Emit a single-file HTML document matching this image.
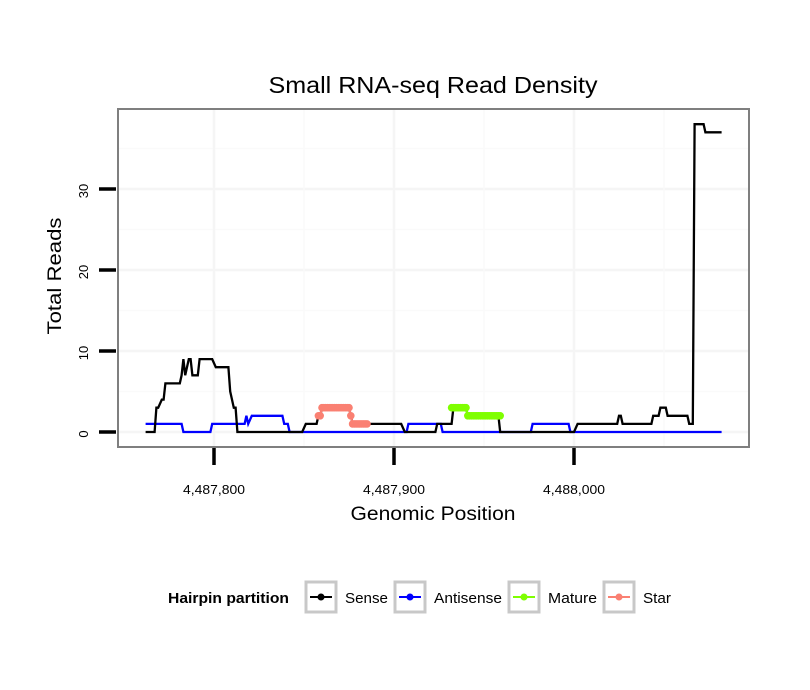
<!DOCTYPE html>
<html><head><meta charset="utf-8"><style>
body{margin:0;background:#fff;}
svg{display:block;font-family:"Liberation Sans",sans-serif;}
</style></head><body>
<svg id="chart" width="810" height="690">
<rect width="810" height="690" fill="#fff"/>
<text x="433" y="93" font-size="23" text-anchor="middle" textLength="329" lengthAdjust="spacingAndGlyphs">Small RNA-seq Read Density</text>
<g id="grid"></g>
<g id="series"></g>
<rect x="118" y="109" width="631" height="338" fill="none" stroke="#7f7f7f" stroke-width="2"/>
<g id="axes"></g>
<text x="433" y="520" font-size="19" text-anchor="middle" textLength="165" lengthAdjust="spacingAndGlyphs">Genomic Position</text>
<text transform="translate(61,276) rotate(-90)" font-size="19" text-anchor="middle" textLength="117" lengthAdjust="spacingAndGlyphs">Total Reads</text>
<g>
<text x="168" y="603" font-size="15" font-weight="bold" textLength="121" lengthAdjust="spacingAndGlyphs">Hairpin partition</text>
<g><rect x="306" y="582" width="30" height="30" fill="#fff" stroke="#c8c8c8" stroke-width="3"/><line x1="310" y1="597" x2="332" y2="597" stroke="#000" stroke-width="2"/><circle cx="321" cy="597" r="3.5" fill="#000"/><text x="345" y="603" font-size="15" textLength="43" lengthAdjust="spacingAndGlyphs">Sense</text></g>
<g><rect x="395" y="582" width="30" height="30" fill="#fff" stroke="#c8c8c8" stroke-width="3"/><line x1="399" y1="597" x2="421" y2="597" stroke="#0000ff" stroke-width="2"/><circle cx="410" cy="597" r="3.5" fill="#0000ff"/><text x="434" y="603" font-size="15" textLength="68" lengthAdjust="spacingAndGlyphs">Antisense</text></g>
<g><rect x="509" y="582" width="30" height="30" fill="#fff" stroke="#c8c8c8" stroke-width="3"/><line x1="513" y1="597" x2="535" y2="597" stroke="#7fff00" stroke-width="2"/><circle cx="524" cy="597" r="3.5" fill="#7fff00"/><text x="548" y="603" font-size="15" textLength="49" lengthAdjust="spacingAndGlyphs">Mature</text></g>
<g><rect x="604" y="582" width="30" height="30" fill="#fff" stroke="#c8c8c8" stroke-width="3"/><line x1="608" y1="597" x2="630" y2="597" stroke="#fa8072" stroke-width="2"/><circle cx="619" cy="597" r="3.5" fill="#fa8072"/><text x="643" y="603" font-size="15" textLength="28" lengthAdjust="spacingAndGlyphs">Star</text></g>
</g>
</svg>
<script>
const senseOffsets=[-38,-33,-32,-31,-29,-28,-27,-19,-18,-17,-16,-14,-13,-12,-9,-8,-1,1,8,9,11,12,13,49,51,57,58,59,60,75,76,77,104,106,123,124,132,133,140,141,158,159,200,202,224,225,226,227,243,244,247,248,251,252,263,264,266,267,272,273,282];
const senseValues=[0,0,3,3,4,4,6,6,7,9,7,9,9,7,7,9,9,8,8,5,3,3,0,0,1,1,2,2,3,3,2,1,1,0,0,1,1,3,3,2,2,0,0,1,1,2,2,1,1,2,2,3,3,2,2,1,1,38,38,37,37];
const antiOffsets=[-38,-18,-17,-2,-1,17,18,19,21,38,39,41,42,107,108,126,127,176,177,197,198,282];
const antiValues=[1,1,0,0,1,1,2,1,2,2,1,1,0,0,1,1,0,0,1,1,0,0];
const starOffsets=[58,59,60,61,62,63,64,65,66,67,68,69,70,71,72,73,74,75,76,77,78,79,80,81,82,83,84,85];
const starValues=[2,2,3,3,3,3,3,3,3,3,3,3,3,3,3,3,3,3,2,1,1,1,1,1,1,1,1,1];
const matureOffsets=[132,133,134,135,136,137,138,139,140,141,142,143,144,145,146,147,148,149,150,151,152,153,154,155,156,157,158,159];
const matureValues=[3,3,3,3,3,3,3,3,3,2,2,2,2,2,2,2,2,2,2,2,2,2,2,2,2,2,2,2];
const basePos=4487800;
const xTicks=[4487800,4487900,4488000];
const xTickLabels=["4,487,800","4,487,900","4,488,000"];
const yTicks=[0,10,20,30];
const yTickLabels=["0","10","20","30"];
const NS="http://www.w3.org/2000/svg";
function xs(p){return 214+(p-basePos)*1.8;}
function ys(v){return 432-v*8.1;}
function mk(t,a,parent){const e=document.createElementNS(NS,t);for(const k in a)e.setAttribute(k,a[k]);parent.appendChild(e);return e;}
const grid=document.getElementById('grid'),axes=document.getElementById('axes'),series=document.getElementById('series');
for(let v=5;v<=35;v+=10){const l=mk('line',{x1:119,x2:748,y1:ys(v),y2:ys(v),stroke:'#fafafa','stroke-width':1.5},grid);

}
yTicks.forEach(v=>{const l=mk('line',{x1:119,x2:748,y1:ys(v),y2:ys(v),stroke:'#f5f5f5','stroke-width':2.5},grid);

});
[4487850,4487950,4488050].forEach(p=>{const l=mk('line',{x1:xs(p),x2:xs(p),y1:110,y2:446,stroke:'#fafafa','stroke-width':1.5},grid);

});
xTicks.forEach(p=>{const l=mk('line',{x1:xs(p),x2:xs(p),y1:110,y2:446,stroke:'#f5f5f5','stroke-width':2.5},grid);

});
yTicks.forEach((v,i)=>{const t=mk('line',{x1:99,x2:116,y1:ys(v),y2:ys(v),stroke:'#000','stroke-width':3.5},axes);


const tx=mk('text',{transform:`translate(88,${ys(v)+2}) rotate(-90)`,'font-size':13,'text-anchor':'middle'},axes);
tx.textContent=yTickLabels[i];

});
xTicks.forEach((p,i)=>{const t=mk('line',{x1:xs(p),x2:xs(p),y1:448,y2:465,stroke:'#000','stroke-width':3.5},axes);


const tx=mk('text',{x:xs(p),y:494,'font-size':13,'text-anchor':'middle',textLength:62,lengthAdjust:'spacingAndGlyphs'},axes);
tx.textContent=xTickLabels[i];

});
function line(offs,vals,color,name){const d=offs.map((o,i)=>(i?'L':'M')+xs(basePos+o).toFixed(1)+','+ys(vals[i]).toFixed(1)).join('');
const p=mk('path',{d:d,fill:'none',stroke:color,'stroke-width':2.3},series);

}
function pts(offs,vals,color,name){const g=mk('g',{},series);


line(offs,vals,color,name+'-line');
offs.forEach((o,i)=>{const c=mk('circle',{cx:xs(basePos+o),cy:ys(vals[i]),r:3.8,fill:color},g);

});}
line(antiOffsets,antiValues,'#0000ff','antisense-line');
line(senseOffsets,senseValues,'#000','sense-line');
pts(starOffsets,starValues,'#fa8072','star-series');
pts(matureOffsets,matureValues,'#7fff00','mature-series');
</script>
</body></html>
